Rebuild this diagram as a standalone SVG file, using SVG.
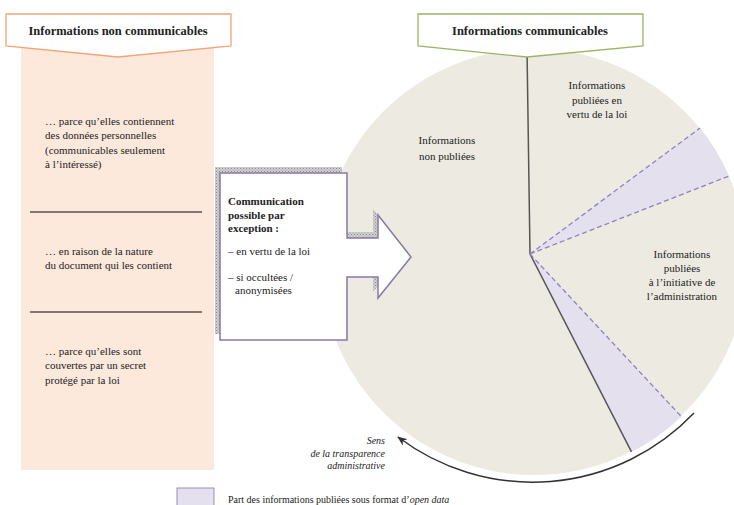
<svg xmlns="http://www.w3.org/2000/svg" width="734" height="505" viewBox="0 0 734 505">
<style>
  text { font-family: "Liberation Serif", "DejaVu Serif", serif; fill: #222; }
  .hdr { font-size: 12.5px; font-weight: bold; text-anchor: middle; }
  .t { font-size: 11px; }
  .c { font-size: 11px; text-anchor: middle; }
  .b { font-weight: bold; }
  .it { font-size: 10px; font-style: italic; text-anchor: end; }
  .sep { stroke: #5a5050; stroke-width: 1.5; }
  .solid { stroke: #555; stroke-width: 1.5; fill: none; }
  .dash { stroke: #9080C0; stroke-width: 1.3; stroke-dasharray: 5 3; fill: none; }
  .od { fill: #E4E0ED; }
</style>
<defs>
  <pattern id="dots" width="3" height="3" patternUnits="userSpaceOnUse">
    <rect width="3" height="3" fill="#d0d0d0"/>
    <rect width="1" height="1" fill="#8a8a8a"/>
    <rect x="1.5" y="1.5" width="1" height="1" fill="#9a9a9a"/>
  </pattern>
  <marker id="ah" markerWidth="10" markerHeight="8" refX="9" refY="4" orient="auto" markerUnits="userSpaceOnUse">
    <path d="M0,0 L10,4 L0,8 L3,4 Z" fill="#333"/>
  </marker>
</defs>

<g id="left-column">
  <rect x="21" y="46" width="193" height="424" fill="#FCE9DC"/>
  <line class="sep" x1="30" y1="212" x2="202" y2="212"/>
  <line class="sep" x1="30" y1="312" x2="202" y2="312"/>
  <text class="t" x="45" y="125">… parce qu’elles contiennent</text>
  <text class="t" x="45" y="139">des données personnelles</text>
  <text class="t" x="45" y="154">(communicables seulement</text>
  <text class="t" x="45" y="168">à l’intéressé)</text>
  <text class="t" x="45" y="255">… en raison de la nature</text>
  <text class="t" x="45" y="269">du document qui les contient</text>
  <text class="t" x="45" y="355">… parce qu’elles sont</text>
  <text class="t" x="45" y="369">couvertes par un secret</text>
  <text class="t" x="45" y="384">protégé par la loi</text>
</g>

<g id="pie">
  <circle cx="534" cy="262" r="213" fill="#EDEBE1"/>
  <path class="od" d="M530,254 L700,128 A213,213 0 0 1 729,176 Z"/>
  <path class="od" d="M530,254 L681.4,416.7 A213,213 0 0 1 631.5,451.9 Z"/>
  <line class="solid" x1="530" y1="254" x2="527" y2="49"/>
  <line class="solid" x1="530" y1="254" x2="631.5" y2="451.9"/>
  <line class="dash" x1="530" y1="254" x2="700" y2="128"/>
  <line class="dash" x1="530" y1="254" x2="729" y2="176"/>
  <line class="dash" x1="530" y1="254" x2="681.4" y2="416.7"/>
  <text class="c" x="447" y="144">Informations</text>
  <text class="c" x="447" y="160">non publiées</text>
  <text class="c" x="597" y="89">Informations</text>
  <text class="c" x="597" y="104">publiées en</text>
  <text class="c" x="597" y="118">vertu de la loi</text>
  <text class="c" x="682" y="258">Informations</text>
  <text class="c" x="682" y="272">publiées</text>
  <text class="c" x="682" y="286">à l’initiative de</text>
  <text class="c" x="682" y="300">l’administration</text>
</g>

<g id="header-left">
  <path d="M6,14 L231,14 L231,46 L118,57 L6,46 Z" fill="#fff" stroke="#F2A478" stroke-width="1.3"/>
  <text class="hdr" x="118" y="35">Informations non communicables</text>
</g>

<g id="header-right">
  <path d="M418,14 L643,14 L643,46 L527,57 L418,46 Z" fill="#fff" stroke="#9BB464" stroke-width="1.3"/>
  <text class="hdr" x="530" y="35">Informations communicables</text>
</g>

<g id="exception-arrow">
  <polygon points="215,167 342,167 342,232 373,232 373,209 406,251 373,292 373,271 342,271 342,334 215,334" fill="url(#dots)"/>
  <polygon points="220,173 347,173 347,238 378,238 378,215 411,257 378,298 378,277 347,277 347,340 220,340" fill="#fff" stroke="#8878A8" stroke-width="1.5"/>
  <text class="t b" x="228" y="205">Communication</text>
  <text class="t b" x="228" y="219">possible par</text>
  <text class="t b" x="228" y="232">exception :</text>
  <text class="t" x="228" y="255">– en vertu de la loi</text>
  <text class="t" x="228" y="281">– si occultées /</text>
  <text class="t" x="235" y="294">anonymisées</text>
</g>

<g id="connectors">
  <path d="M694,413 A223,223 0 0 1 398,437" fill="none" stroke="#333" stroke-width="1.5" marker-end="url(#ah)"/>
</g>

<g id="direction-label">
  <text class="it" x="385" y="444">Sens</text>
  <text class="it" x="385" y="457">de la transparence</text>
  <text class="it" x="385" y="469">administrative</text>
</g>

<g id="legend">
  <rect x="177" y="488" width="37" height="20" fill="#E4E0ED" stroke="#9A8EB8" stroke-width="1"/>
  <text x="228" y="503" style="font-size:10px">Part des informations publiées sous format d’<tspan font-style="italic">open data</tspan></text>
</g>
</svg>
